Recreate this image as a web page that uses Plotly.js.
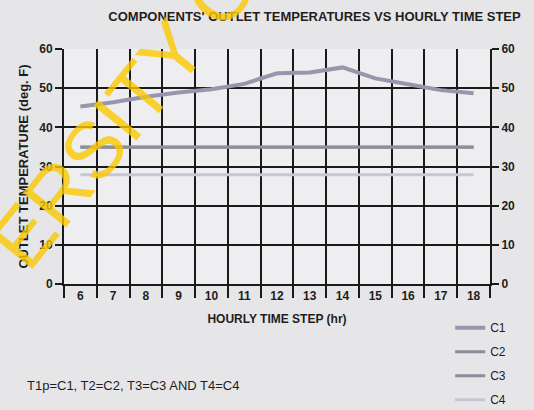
<!DOCTYPE html>
<html><head><meta charset="utf-8">
<script src="https://cdn.plot.ly/plotly-3.0.1.min.js"></script>
<style>body{margin:0;padding:0;background:#e6e6e8}#c{width:534px;height:410px}</style>
</head><body><div id="c"></div>
<script>
var hours = ["6","7","8","9","10","11","12","13","14","15","16","17","18"];
var c1 = [45.3,46.4,47.8,48.9,49.7,51.1,53.8,54.0,55.3,52.5,51.0,49.5,48.7];
var c2 = [35.0,35.0,35.0,35.0,35.0,35.0,35.0,35.0,35.0,35.0,35.0,35.0,35.0];
var c3 = [34.9,34.9,34.9,34.9,34.9,34.9,34.9,34.9,34.9,34.9,34.9,34.9,34.9];
var c4 = [27.9,27.9,27.9,27.9,27.9,27.9,27.9,27.9,27.9,27.9,27.9,27.9,27.9];
var names = ["C1","C2","C3","C4"];
var colors = ["#9896ad","#8c8c9a","#8e8e9a","#c6c6d4"];
var series = [c1,c2,c3,c4];
var widths = [4,3,3,3];
var data = series.map(function(s,i){
  return {x:hours,y:s,type:"scatter",mode:"lines",name:names[i],legendgroup:names[i],
    line:{color:colors[i],width:widths[i]},xaxis:"x",yaxis:"y"};
});
data.push({x:hours,y:c1,type:"scatter",mode:"lines",yaxis:"y2",showlegend:false,hoverinfo:"skip",line:{width:0},opacity:0});
var tf = {family:"Liberation Sans, Arial, sans-serif",size:12,color:"#1e1e1e",weight:"bold"};
var layout = {
  width:534,height:410,
  margin:{l:64,r:44,t:49,b:126,autoexpand:false},
  paper_bgcolor:"#e6e6e8",plot_bgcolor:"#eeeef1",
  showlegend:true,
  title:{text:"COMPONENTS' OUTLET TEMPERATURES VS HOURLY TIME STEP",xref:"container",x:0.589,xanchor:"center",yref:"container",y:0.961,yanchor:"middle",
    font:{family:"Liberation Sans, Arial",size:13,color:"#1e1e1e",weight:"bold"}},
  xaxis:{type:"category",tickson:"boundaries",range:[-0.5,12.5],showgrid:true,gridcolor:"#1a1a1a",gridwidth:2,
    ticks:"outside",ticklen:12,tickwidth:2,tickcolor:"#1a1a1a",showline:true,linecolor:"#1a1a1a",linewidth:2,
    tickfont:tf,zeroline:false,fixedrange:true,
    title:{text:"HOURLY TIME STEP (hr)",standoff:12,font:{family:"Liberation Sans, Arial",size:12,color:"#1e1e1e",weight:"bold"}}},
  yaxis:{range:[0,60],dtick:10,showgrid:true,gridcolor:"#1a1a1a",gridwidth:2,zeroline:false,
    ticks:"outside",ticklen:7,tickwidth:2,tickcolor:"#1a1a1a",showline:true,linecolor:"#1a1a1a",linewidth:2,
    tickfont:tf,
    title:{text:"OUTLET TEMPERATURE (deg. F)",standoff:8,font:{family:"Liberation Sans, Arial",size:13,color:"#1e1e1e",weight:"bold"}}},
  yaxis2:{range:[0,60],dtick:10,overlaying:"y",side:"right",showgrid:false,zeroline:false,
    ticks:"outside",ticklen:7,tickwidth:2,tickcolor:"#1a1a1a",showline:true,linecolor:"#1a1a1a",linewidth:2,
    tickfont:tf},
  legend:{xref:"container",yref:"container",x:0.843,xanchor:"left",y:0.236,yanchor:"top",bgcolor:"rgba(0,0,0,0)",tracegroupgap:5,
    font:{family:"Liberation Sans, Arial",size:12,color:"#1e1e1e"}},
  annotations:[
    {text:"T1p=C1, T2=C2, T3=C3 AND T4=C4",xref:"paper",yref:"paper",x:-0.0915,y:-0.43,xanchor:"left",yanchor:"middle",showarrow:false,
     font:{family:"Liberation Sans, Arial",size:13,color:"#1e1e1e"}},
    {text:"ERSITY O",xref:"paper",yref:"paper",x:0.14,y:0.73,xanchor:"center",yanchor:"middle",showarrow:false,textangle:-51,
     font:{family:"Liberation Sans, Arial",size:80,color:"rgba(250,200,0,0.8)"}}
  ]
};
Plotly.newPlot("c",data,layout,{displayModeBar:false,staticPlot:true});
</script></body></html>
